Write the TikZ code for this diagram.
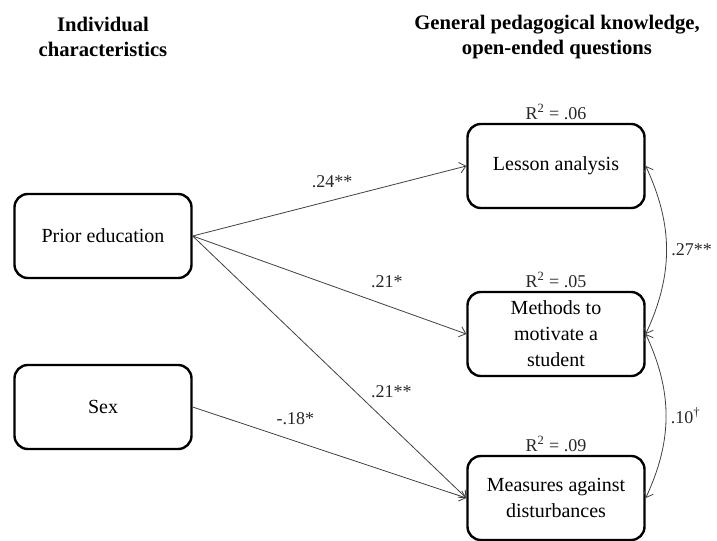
\documentclass[tikz,border=0pt]{standalone}
\usepackage{fontspec}
\setmainfont{Liberation Serif}
\usetikzlibrary{arrows.meta,positioning}
\tikzset{
  >={Straight Barb[length=4.5pt,width=8pt]},
  every node/.append style={font=\fontsize{15}{19.5}\selectfont},
}
\tikzset{
  obsvar/.style={draw, line width=1.8pt, rounded corners=10pt, align=center,
                 minimum width=132.75pt, minimum height=63pt, inner sep=2pt},
  effect/.style={->, line width=0.6pt, draw=black!75},
  cov/.style={<->, line width=0.6pt, draw=black!75},
  coef/.style={font=\fontsize{13.5}{15}\selectfont, text=black!85}
}

\begin{document}
\begin{tikzpicture}[
  x=0.75pt, y=-0.75pt,
  heading/.style={align=center, font=\bfseries\fontsize{15.5}{18.5}\selectfont},
  rsq/.style={coef, inner sep=2pt}
]
\useasboundingbox (0,0) rectangle (717,540);

% Column headings
\node[heading] (hdind) at (103,37) {Individual\\characteristics};
\node[heading] (hdgpk) at (557,37) {General pedagogical knowledge,\\open-ended questions};

% Predictors
\node[obsvar] (prior) at (103,236) {Prior education};
\node[obsvar] (sex) at (103,407) {Sex};

% Outcomes
\node[obsvar] (lesson) at (556,166) {Lesson analysis};
\node[obsvar] (methods) at (556,334) {Methods to\\motivate a\\student};
\node[obsvar] (measures) at (556,498) {Measures against\\disturbances};

% Explained variance
\node[rsq, above=0pt of lesson] (rlesson) {R\textsuperscript{2} = .06};
\node[rsq, above=0pt of methods] (rmethods) {R\textsuperscript{2} = .05};
\node[rsq, above=0pt of measures] (rmeasures) {R\textsuperscript{2} = .09};

% Regression paths
\draw[effect] (prior.east) -- node[coef, pos=0.51, yshift=13.8pt] {.24**} (lesson.west);
\draw[effect] (prior.east) -- node[coef, pos=0.71, yshift=18pt] {.21*} (methods.west);
\draw[effect] (prior.east) -- node[coef, pos=0.663, xshift=13pt, yshift=13.8pt] {.21**} (measures.west);
\draw[effect] (sex.east) -- node[coef, pos=0.375, yshift=16.5pt] {-.18*} (measures.west);

% Residual correlations
\draw[cov] (lesson.east) to[bend left=25] node[coef, right] {.27**} (methods.east);
\draw[cov] (methods.east) to[bend left=25] node[coef, right] {.10\textsuperscript{\textdagger}} (measures.east);

\end{tikzpicture}
\end{document}
